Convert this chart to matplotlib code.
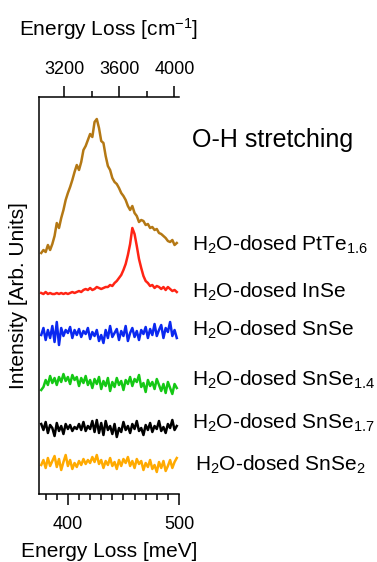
import numpy as np
import matplotlib
matplotlib.use("Agg")
import matplotlib.pyplot as plt

plt.rcParams['font.family'] = ['Liberation Sans', 'DejaVu Sans']
plt.rcParams['mathtext.fontset'] = 'custom'
plt.rcParams['mathtext.rm'] = 'Liberation Sans'
plt.rcParams['mathtext.it'] = 'Liberation Sans:italic'

# energy channels (meV)
energy = np.arange(376, 500, 2)

# spectra (arb. units, each above its own offset)
ptte16 = [1, 4, 2, 9, 4, 10, 18, 31, 26, 36, 44, 54, 61, 67, 74, 82, 89, 84, 92, 104,
          108, 114, 120, 117, 132, 135, 126, 113, 111, 98, 88, 84, 76, 72, 70, 66, 61, 58, 54, 48,
          44, 48, 41, 38, 32, 34, 33, 29, 30, 26, 27, 24, 25, 21, 20, 18, 16, 13, 12, 14, 9, 11]
inse = [1, 0, 2, 0, 1, 0, 0, 1, 0, 1, 0, 1, 0, 1, 2, 1, 2, 3, 2, 4,
        5, 4, 6, 4, 5, 7, 6, 5, 6, 7, 7, 9, 8, 11, 13, 16, 19, 24, 30, 39,
        50, 66, 60, 48, 35, 26, 18, 13, 11, 8, 9, 6, 8, 7, 5, 7, 4, 7, 5, 3, 4, 2]
snse = [-2, 5, -7, 3, -5, 7, -9, 11, -12, 5, -3, 3, 0, 6, -5, 3, -2, 4, -4, 2,
        -1, 5, -6, 1, -3, 3, -8, -2, -10, 3, -5, 7, -4, 0, 4, -7, 2, -3, 7, -8,
        0, 5, -4, 2, -7, 3, -1, 6, -5, 4, -2, 9, -3, 3, 8, -5, 5, 1, 11, -3, 3, -5]
snse14 = [-7, -4, 3, -2, 7, 0, 5, -2, 6, 1, 9, 2, 6, -1, 8, 3, 6, -3, 5, 0,
          7, -2, 3, -5, 4, -1, 6, -6, 2, -3, 5, -8, 1, -4, 5, -2, 2, -7, 3, -1,
          6, -3, 4, 1, 8, -4, 0, -9, 3, -3, 1, -6, 4, -2, -8, -1, -10, 1, -5, -11, -1, -5]
snse17 = [3, -3, 5, -6, 2, -1, -9, 4, -4, 1, -7, 3, -2, 2, -4, 0, -2, 3, -3, 5,
          -4, 1, -2, 6, -5, 7, -6, 4, -8, 6, -3, 1, -7, 3, -10, -1, -5, 5, -3, 1,
          -6, 3, -2, 6, -4, -1, -8, 2, -3, 4, -5, 1, -2, 6, -4, 0, -6, 3, -1, 7, -3, 1]
snse2 = [-2, 3, -5, 5, -3, 2, 7, -4, 4, -7, 1, 8, -3, 3, -6, 0, -4, 2, -2, 4,
         -1, 3, 0, 6, 1, 8, -1, 3, -5, 2, -2, 5, -3, 1, -6, 3, -3, 4, 0, 6,
         -3, 2, -5, 4, -1, 2, -7, 0, -4, 3, -6, -2, -9, 1, -5, 2, -8, -3, 3, -5, 1, 5]

spectra = [ptte16, inse, snse, snse14, snse17, snse2]
offsets = [240, 200, 161, 111, 67, 31]
colors = ['#B47814', '#FF2414', '#0A28F0', '#14C814', '#000000', '#FFAA00']
labels = [r'H$_2$O-dosed PtTe$_{1.6}$', r'H$_2$O-dosed InSe', r'H$_2$O-dosed SnSe',
          r'H$_2$O-dosed SnSe$_{1.4}$', r'H$_2$O-dosed SnSe$_{1.7}$', r'H$_2$O-dosed SnSe$_2$']
label_y = [245, 292, 330, 380, 423, 465]  # pixel rows of the labels
label_x = [192, 192, 192, 192, 192, 195]

W, H = 377, 562
fig = plt.figure(figsize=(W / 100, H / 100), dpi=100)
ax = fig.add_axes([39 / W, 1 - 494 / H, 140 / W, 397 / H])

for y, off, c in zip(spectra, offsets, colors):
    ax.plot(energy, np.array(y) + off, color=c, lw=1.8)

ax.set_xlim(374, 500)
ax.set_ylim(0, 397)
ax.set_yticks([])
ax.spines['right'].set_visible(False)
ax.spines['top'].set_visible(False)
for s in ['left', 'bottom']:
    ax.spines[s].set_linewidth(1.1)
ax.set_xticks([400, 500])
ax.set_xticks(np.arange(380, 501, 10), minor=True)
ax.tick_params(axis='x', which='major', length=8, width=1.1, labelsize=13, pad=8)
ax.tick_params(axis='x', which='minor', length=4.5, width=1.1)
ax.set_xlabel('Energy Loss [meV]', fontsize=15, labelpad=6)
ax.set_ylabel('Intensity [Arb. Units]', fontsize=15, labelpad=8)

conv = 8.0655
top = ax.secondary_xaxis('top', functions=(lambda e: e * conv, lambda w: w / conv))
top.spines['top'].set_linewidth(1.1)
top.set_xticks([3200, 3600, 4000])
top.set_xticks([3400, 3800], minor=True)
top.tick_params(axis='x', which='major', length=8, width=1.1, labelsize=13, pad=6)
top.tick_params(axis='x', which='minor', length=4.5, width=1.1)
top.set_xlabel('Energy Loss [cm$^{-1}$]', fontsize=15, labelpad=18)

fig.text(192 / W, 1 - 140 / H, 'O-H stretching', fontsize=18, va='center', ha='left')
for lab, lx, ly in zip(labels, label_x, label_y):
    fig.text(lx / W, 1 - ly / H, lab, fontsize=15, va='center', ha='left')

fig.savefig('out.png', dpi=100)
